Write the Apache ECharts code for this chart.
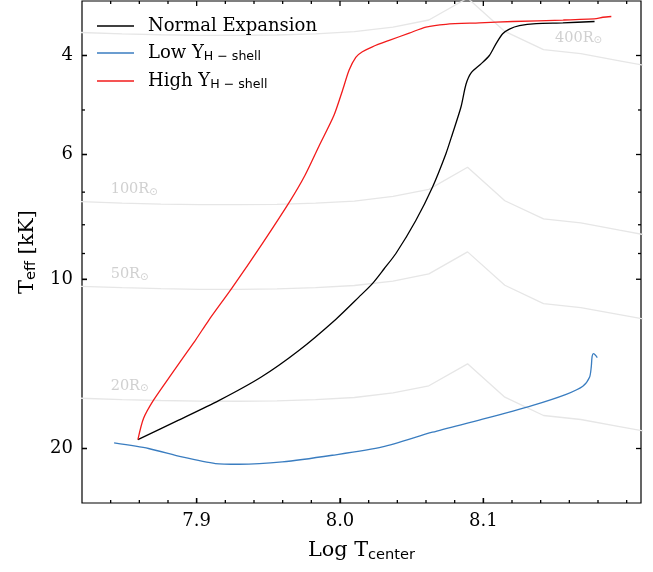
<!DOCTYPE html>
<html><head><meta charset="utf-8">
<script src="https://cdn.jsdelivr.net/npm/echarts@6/dist/echarts.min.js"></script>
<style>html,body{margin:0;padding:0;background:#fff}#c{width:653px;height:572px}</style>
</head><body><div id="c"></div>
<script>
// ---- data ----
const normalX = [7.859, 7.8874, 7.9154, 7.9448, 7.9713, 7.9970, 8.0133, 8.0226, 8.0308, 8.0390, 8.0529, 8.0645, 8.0739, 8.0785, 8.0844, 8.0879, 8.0916, 8.0984, 8.1042, 8.1089, 8.1135, 8.1182, 8.1252, 8.1369, 8.1555, 8.1776];
const normalT = [19.28, 17.81, 16.44, 14.94, 13.39, 11.79, 10.75, 10.18, 9.58, 9.00, 7.86, 6.86, 5.98, 5.51, 4.94, 4.50, 4.29, 4.14, 4.00, 3.81, 3.66, 3.59, 3.54, 3.51, 3.50, 3.48];
const lowX = [7.8424, 7.8664, 7.8897, 7.9131, 7.9294, 7.9597, 7.9946, 8.0296, 8.0645, 8.0995, 8.1345, 8.1578, 8.1694, 8.1741, 8.1753, 8.1759, 8.1769, 8.1795];
const lowT = [19.55, 20.00, 20.70, 21.27, 21.33, 21.13, 20.56, 19.87, 18.71, 17.74, 16.76, 16.02, 15.50, 14.94, 14.32, 13.71, 13.56, 13.78];
const highX = [7.859, 7.8629, 7.8699, 7.8827, 7.8991, 7.9084, 7.9247, 7.9457, 7.9650, 7.9755, 7.9853, 7.9958, 8.0017, 8.0063, 8.0110, 8.0156, 8.0226, 8.0343, 8.0483, 8.0599, 8.0739, 8.0972, 8.1205, 8.1555, 8.1788, 8.1834, 8.1893];
const highT = [19.28, 17.69, 16.41, 14.72, 12.84, 11.83, 10.36, 8.65, 7.27, 6.54, 5.80, 5.11, 4.62, 4.25, 4.03, 3.94, 3.86, 3.76, 3.65, 3.56, 3.52, 3.50, 3.48, 3.46, 3.44, 3.42, 3.41];

const radiusX = [7.800, 7.848, 7.875, 7.902, 7.929, 7.956, 7.983, 8.010, 8.037, 8.062, 8.089, 8.115, 8.142, 8.168, 8.195, 8.222];
const r20T  = [16.22, 16.37, 16.43, 16.47, 16.48, 16.45, 16.37, 16.23, 15.93, 15.47, 14.14, 16.21, 17.47, 17.76, 18.28, 18.82];
const r50T  = [10.26, 10.35, 10.39, 10.42, 10.42, 10.40, 10.35, 10.26, 10.08, 9.78, 8.94, 10.25, 11.05, 11.23, 11.56, 11.90];
const r100T = [7.25, 7.32, 7.35, 7.37, 7.37, 7.36, 7.32, 7.26, 7.12, 6.92, 6.32, 7.25, 7.81, 7.94, 8.18, 8.42];
const r400T = [3.627, 3.660, 3.674, 3.683, 3.685, 3.678, 3.660, 3.629, 3.562, 3.459, 3.162, 3.625, 3.906, 3.971, 4.088, 4.208];

const radiusLabels = ['20R', '50R', '100R', '400R'];
const radiusLabelX = [7.84, 7.84, 7.84, 8.15];
const radiusLabelT = [15.47, 9.80, 6.92, 3.72];

const seriesNames = ['Normal Expansion', 'Low YH-shell', 'High YH-shell'];
const xMajorTicks = [7.9, 8.0, 8.1];
const xMinorTicks = [7.84, 7.86, 7.88, 7.92, 7.94, 7.96, 7.98, 8.02, 8.04, 8.06, 8.08, 8.12, 8.14, 8.16, 8.18, 8.20];
const yMajorTicks = [4, 6, 10, 20];
const yMinorTicks = [5, 7, 8, 9];

// ---- chart ----
const SERIF = 'DejaVu Serif', SANS = 'DejaVu Sans';
const X_MIN = 7.82, X_MAX = 8.21, Y_MIN = 3.2, Y_MAX = 25;
const pair = (xs, ys) => xs.map((x, i) => [x, ys[i]]);

// tick marks on all four sides, placed through the axes' own scales (api.coord)
function tickSeries(name, values, isX, len) {
  return {
    name, type: 'custom', silent: true, z: 20, zlevel: 0, clip: false,
    data: values.map(v => isX ? [v, 10] : [8.0, v]),
    renderItem: (params, api) => {
      const cs = params.coordSys;
      const p = api.coord([api.value(0), api.value(1)]);
      const st = { stroke: '#000000', lineWidth: 1.3, fill: null };
      if (isX) {
        const yb = cs.y + cs.height, yt = cs.y;
        return { type: 'group', children: [
          { type: 'line', z2: 100, shape: { x1: p[0], y1: yb, x2: p[0], y2: yb - len }, style: st },
          { type: 'line', z2: 100, shape: { x1: p[0], y1: yt, x2: p[0], y2: yt + len }, style: st } ] };
      }
      const xl = cs.x, xr = cs.x + cs.width;
      return { type: 'group', children: [
        { type: 'line', z2: 100, shape: { x1: xl, y1: p[1], x2: xl + len, y2: p[1] }, style: st },
        { type: 'line', z2: 100, shape: { x1: xr, y1: p[1], x2: xr - len, y2: p[1] }, style: st } ] };
    }
  };
}

const grayLine = (name, ys) => ({
  name, type: 'line', data: pair(radiusX, ys), symbol: 'none', silent: true, z: 1,
  lineStyle: { color: '#e6e6e6', width: 1.3 }, clip: true
});
const mainLine = (name, xs, ys, color) => ({
  name, type: 'line', data: pair(xs, ys), symbol: 'none', showSymbol: false, smooth: 0.25, z: 5,
  lineStyle: { color, width: 1.3 }, itemStyle: { color }, clip: true
});

const option = {
  animation: false,
  grid: { left: 82, right: 12, top: 1, bottom: 69, containLabel: false, outerBoundsMode: 'none',
          show: true, borderColor: '#000', borderWidth: 1.2 },
  xAxis: {
    type: 'value', position: 'bottom', min: X_MIN, max: X_MAX,
    axisLine: { show: false },
    axisTick: { show: true, inside: true, length: 5, customValues: xMajorTicks, lineStyle: { color: '#000', width: 1.3 } },
    splitLine: { show: false },
    axisLabel: { show: true, customValues: xMajorTicks, formatter: v => v.toFixed(1), fontFamily: SERIF, fontSize: 18, color: '#000', margin: 9 },
    name: '{m|Log T}{s|center}', nameLocation: 'middle', nameGap: 36,
    nameTextStyle: { color: '#000', rich: {
      m: { fontFamily: SERIF, fontSize: 20.8, lineHeight: 24, color: '#000' },
      s: { fontFamily: SANS, fontSize: 14.6, lineHeight: 13, verticalAlign: 'bottom', color: '#000' } } }
  },
  yAxis: {
    type: 'log', min: Y_MIN, max: Y_MAX, inverse: true,
    axisLine: { show: false },
    axisTick: { show: true, inside: true, length: 5, customValues: yMajorTicks, lineStyle: { color: '#000', width: 1.3 } },
    splitLine: { show: false },
    axisLabel: { show: true, customValues: yMajorTicks, formatter: v => String(Math.round(v)), fontFamily: SERIF, fontSize: 18, color: '#000', margin: 9 },
    name: '{m|T}{s|eff}{m| [kK]}', nameLocation: 'middle', nameGap: 42,
    nameTextStyle: { color: '#000', rich: {
      m: { fontFamily: SERIF, fontSize: 20.8, lineHeight: 24, color: '#000' },
      s: { fontFamily: SANS, fontSize: 14.6, lineHeight: 13, verticalAlign: 'bottom', color: '#000' } } }
  },
  legend: {
    orient: 'vertical', left: 97, top: 17, padding: 0, itemWidth: 37, itemHeight: 1.5, itemGap: 9,
    icon: 'rect',
    data: seriesNames,
    formatter: n => n === 'Normal Expansion' ? '{m|Normal Expansion}'
      : (n.startsWith('Low') ? '{m|Low Y}{s|H − shell}' : '{m|High Y}{s|H − shell}'),
    textStyle: { padding: [0, 0, 0, 9], rich: {
      m: { fontFamily: SERIF, fontSize: 18, lineHeight: 20, color: '#000' },
      s: { fontFamily: SANS, fontSize: 12.6, lineHeight: 11, verticalAlign: 'bottom', color: '#000' } } }
  },
  series: [
    grayLine('r20', r20T), grayLine('r50', r50T), grayLine('r100', r100T), grayLine('r400', r400T),
    {
      name: 'radius labels', type: 'scatter', symbolSize: 0, silent: true, z: 2,
      data: radiusLabelX.map((x, i) => [x, radiusLabelT[i], radiusLabels[i]]),
      label: { show: true, position: 'right', distance: 0, formatter: p => '{m|' + p.data[2] + '}{s|⊙}',
        rich: { m: { fontFamily: SERIF, fontSize: 14.5, lineHeight: 16, color: '#c4c4c4' },
                s: { fontFamily: SANS, fontSize: 10, lineHeight: 10, verticalAlign: 'bottom', color: '#c4c4c4' } } }
    },
    mainLine(seriesNames[0], normalX, normalT, '#000000'),
    mainLine(seriesNames[1], lowX, lowT, '#3a7dc0'),
    mainLine(seriesNames[2], highX, highT, '#f21b1b'),
    tickSeries('xMajor', xMajorTicks, true, 5),
    tickSeries('xMinor', xMinorTicks, true, 3),
    tickSeries('yMajor', yMajorTicks, false, 5),
    tickSeries('yMinor', yMinorTicks, false, 3)
  ]
};
const chart = echarts.init(document.getElementById('c'));
chart.setOption(option);
</script></body></html>
